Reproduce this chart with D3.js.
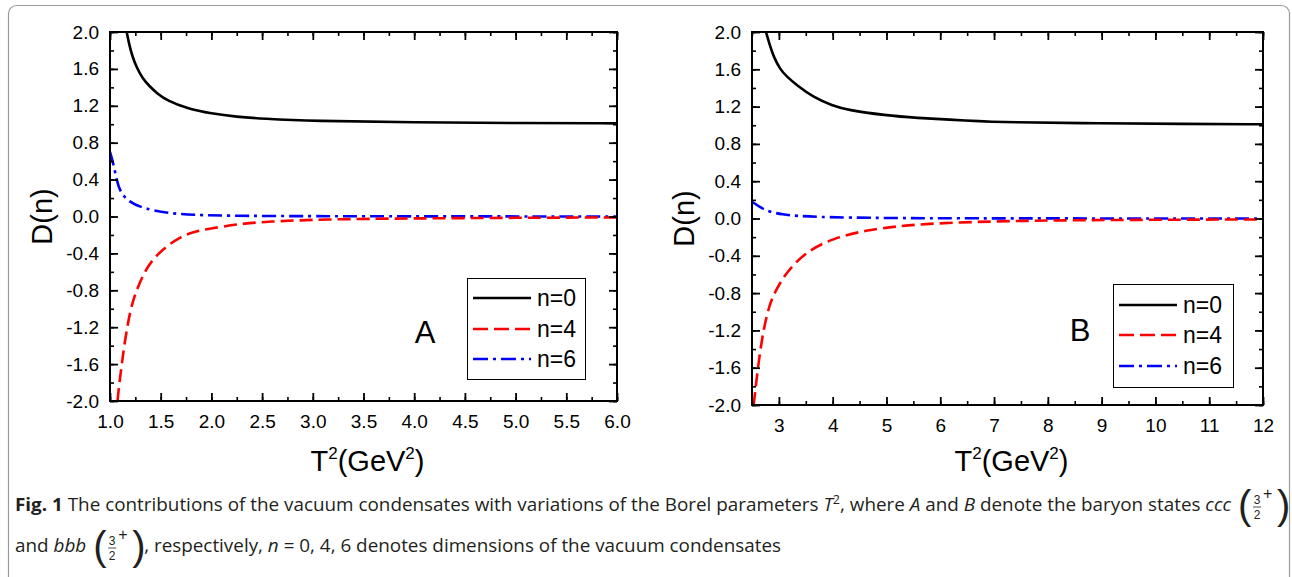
<!DOCTYPE html>
<html>
<head>
<meta charset="utf-8">
<script src="https://d3js.org/d3.v7.min.js"></script>
<style>
  body { margin: 0; background: #fff; }
  svg text { font-family: "Liberation Sans", Arial, sans-serif; }
</style>
</head>
<body>
<script>
var width = 1292, height = 577;

// panel A : ccc  (T^2 in GeV^2, D(n))
var tA0 = [1.165, 1.19, 1.22, 1.26, 1.32, 1.39, 1.47, 1.56, 1.76, 2.0, 2.25, 2.5, 3.0, 4.0, 5.0, 6.0];
var dA0 = [2.0, 1.86, 1.74, 1.62, 1.50, 1.41, 1.33, 1.26, 1.17, 1.115, 1.08, 1.06, 1.035, 1.02, 1.013, 1.01];
var tA4 = [1.075, 1.082, 1.115, 1.148, 1.197, 1.247, 1.33, 1.41, 1.53, 1.67, 1.82, 1.99, 2.28, 2.55, 3.1, 4.0, 5.0, 6.0];
var dA4 = [-2.0, -1.90, -1.61, -1.34, -1.03, -0.84, -0.62, -0.48, -0.345, -0.236, -0.165, -0.13, -0.08, -0.055, -0.03, -0.02, -0.014, -0.01];
var tA6 = [1.0, 1.033, 1.066, 1.099, 1.18, 1.33, 1.56, 1.89, 2.5, 3.5, 6.0];
var dA6 = [0.70, 0.575, 0.395, 0.27, 0.16, 0.088, 0.035, 0.012, 0.005, 0.002, 0.0];

// panel B : bbb
var tB0 = [2.76, 2.84, 2.9, 3.02, 3.15, 3.33, 3.64, 4.0, 4.26, 5.0, 5.5, 6.5, 7.27, 9.0, 10.5, 12.0];
var dB0 = [2.0, 1.84, 1.74, 1.60, 1.52, 1.43, 1.30, 1.21, 1.165, 1.105, 1.08, 1.05, 1.03, 1.02, 1.015, 1.01];
var tB4 = [2.53, 2.556, 2.606, 2.68, 2.80, 2.93, 3.15, 3.52, 4.02, 4.64, 5.69, 7.43, 9.0, 12.0];
var dB4 = [-2.0, -1.876, -1.62, -1.30, -0.96, -0.78, -0.566, -0.35, -0.21, -0.12, -0.05, -0.025, -0.015, -0.01];
var tB6 = [2.5, 2.71, 3.02, 3.64, 5.0, 7.0, 12.0];
var dB6 = [0.18, 0.094, 0.04, 0.015, 0.004, 0.001, 0.0];

var yTicks = [2.0, 1.6, 1.2, 0.8, 0.4, 0.0, -0.4, -0.8, -1.2, -1.6, -2.0];
var xTicksA = [1.0, 1.5, 2.0, 2.5, 3.0, 3.5, 4.0, 4.5, 5.0, 5.5, 6.0];
var xTicksB = [3, 4, 5, 6, 7, 8, 9, 10, 11, 12];
var legendNames = ["n=0", "n=4", "n=6"];

var styles = [
  {color: "#000000", dash: null},
  {color: "#ff0000", dash: "13,6"},
  {color: "#0000ff", dash: "14,5,3,5"}
];

var panels = [
  {name: "A", left: 110, right: 617, top: 32, bottom: 401, xdom: [1, 6], xt: xTicksA, xminor: 0.25, fmt: d3.format(".1f"),
   series: [[tA0, dA0], [tA4, dA4], [tA6, dA6]],
   leg: {x: 467, y: 278, w: 118, h: 101, ys: [298, 329, 359]}, lab: {x: 425, y: 332}},
  {name: "B", left: 752, right: 1263, top: 32, bottom: 405, xdom: [2.5, 12], xt: xTicksB, xminor: 0.5, fmt: d3.format("d"),
   series: [[tB0, dB0], [tB4, dB4], [tB6, dB6]],
   leg: {x: 1113, y: 284, w: 120, h: 103, ys: [305, 335, 366]}, lab: {x: 1080, y: 330}}
];

var svg = d3.select("body").append("svg")
  .attr("width", width)
  .attr("height", height);

svg.append("rect").attr("width", width).attr("height", height).attr("fill", "#fff");

// outer frame
svg.append("rect")
  .attr("x", 8.5).attr("y", 5.5)
  .attr("width", 1281).attr("height", 640)
  .attr("rx", 8)
  .attr("fill", "none")
  .attr("stroke", "#9a9a9a")
  .attr("stroke-width", 1.2);

function range(a, b, step) {
  var out = [];
  for (var v = a; v <= b + 1e-9; v += step) out.push(+v.toFixed(4));
  return out;
}

panels.forEach(function(p, pi) {
  var x = d3.scaleLinear().domain(p.xdom).range([p.left, p.right]);
  var y = d3.scaleLinear().domain([-2, 2]).range([p.bottom, p.top]);
  var g = svg.append("g");

  var clipId = "clip" + pi;
  svg.append("clipPath").attr("id", clipId).append("rect")
    .attr("x", p.left).attr("y", p.top)
    .attr("width", p.right - p.left).attr("height", p.bottom - p.top);

  var line = d3.line()
    .x(function(d) { return x(d[0]); })
    .y(function(d) { return y(d[1]); })
    .curve(d3.curveBasis);

  var curves = g.append("g").attr("clip-path", "url(#" + clipId + ")");
  // blue first, then red, black on top
  [2, 1, 0].forEach(function(si) {
    var s = p.series[si];
    var pts = s[0].map(function(t, i) { return [t, s[1][i]]; });
    curves.append("path")
      .datum(pts)
      .attr("d", line)
      .attr("fill", "none")
      .attr("stroke", styles[si].color)
      .attr("stroke-width", 2.6)
      .attr("stroke-dasharray", styles[si].dash);
  });

  var yMinor = range(-2, 2, 0.2);
  var xMinor = range(p.xdom[0], p.xdom[1], p.xminor);

  // minor ticks (all four sides, inward)
  var minors = [
    [d3.axisBottom(x).tickValues(xMinor), "translate(0," + p.bottom + ")"],
    [d3.axisTop(x).tickValues(xMinor), "translate(0," + p.top + ")"],
    [d3.axisLeft(y).tickValues(yMinor), "translate(" + p.left + ",0)"],
    [d3.axisRight(y).tickValues(yMinor), "translate(" + p.right + ",0)"]
  ];
  minors.forEach(function(m) {
    var a = g.append("g").attr("transform", m[1])
      .call(m[0].tickSize(-4).tickFormat(""));
    a.select(".domain").remove();
    a.selectAll("line").attr("stroke", "#000").attr("stroke-width", 1.6);
  });

  // major ticks
  var bx = g.append("g").attr("transform", "translate(0," + p.bottom + ")")
    .call(d3.axisBottom(x).tickValues(p.xt).tickSize(-8).tickPadding(13.5).tickFormat(p.fmt));
  var tx = g.append("g").attr("transform", "translate(0," + p.top + ")")
    .call(d3.axisTop(x).tickValues(p.xt).tickSize(-8).tickFormat(""));
  var ly = g.append("g").attr("transform", "translate(" + p.left + ",0)")
    .call(d3.axisLeft(y).tickValues(yTicks).tickSize(-8).tickPadding(11).tickFormat(d3.format(".1f")));
  var ry = g.append("g").attr("transform", "translate(" + p.right + ",0)")
    .call(d3.axisRight(y).tickValues(yTicks).tickSize(-8).tickFormat(""));
  [bx, tx, ly, ry].forEach(function(a) {
    a.select(".domain").remove();
    a.selectAll("line").attr("stroke", "#000").attr("stroke-width", 1.8);
    a.selectAll("text")
      .attr("fill", "#000")
      .style("font-family", '"Liberation Sans", Arial, sans-serif')
      .style("font-size", "19px");
  });
  ly.selectAll("text").text(function(d) { return d3.format(".1f")(d).replace("\u2212", "-"); });

  // plot frame
  g.append("rect")
    .attr("x", p.left).attr("y", p.top)
    .attr("width", p.right - p.left).attr("height", p.bottom - p.top)
    .attr("fill", "none")
    .attr("stroke", "#000")
    .attr("stroke-width", 2);

  // axis titles
  var cx = (p.left + p.right) / 2 + 4;
  var xt = g.append("text")
    .attr("x", cx).attr("y", 471)
    .attr("text-anchor", "middle")
    .style("font-size", "29px");
  xt.append("tspan").text("T");
  xt.append("tspan").attr("dy", -12).style("font-size", "17px").text("2");
  xt.append("tspan").attr("dy", 12).text("(GeV");
  xt.append("tspan").attr("dy", -12).style("font-size", "17px").text("2");
  xt.append("tspan").attr("dy", 12).text(")");

  g.append("text")
    .attr("transform", "translate(" + (p.left - 68) + "," + ((p.top + p.bottom) / 2) + ") rotate(-90)")
    .attr("text-anchor", "middle")
    .attr("dy", "0.35em")
    .style("font-size", "29px")
    .text("D(n)");

  // panel letter
  g.append("text")
    .attr("x", p.lab.x).attr("y", p.lab.y)
    .attr("text-anchor", "middle")
    .attr("dy", "0.36em")
    .style("font-size", "31px")
    .text(p.name);

  // legend
  var L = p.leg;
  g.append("rect")
    .attr("x", L.x + 0.5).attr("y", L.y + 0.5)
    .attr("width", L.w).attr("height", L.h)
    .attr("fill", "#fff")
    .attr("stroke", "#000")
    .attr("stroke-width", 1);
  legendNames.forEach(function(nm, i) {
    g.append("line")
      .attr("x1", L.x + 6).attr("x2", L.x + 64)
      .attr("y1", L.ys[i]).attr("y2", L.ys[i])
      .attr("stroke", styles[i].color)
      .attr("stroke-width", 2.6)
      .attr("stroke-dasharray", i === 1 ? "15,6" : (i === 2 ? "15,5,3,5" : null));
    g.append("text")
      .attr("x", L.x + 70).attr("y", L.ys[i])
      .attr("dy", "0.36em")
      .style("font-size", "23px")
      .text(nm);
  });
});

// caption
var capFont = '"Open Sans", "Noto Sans", sans-serif';
var cap = svg.append("g").attr("fill", "#231f20");

function seg(x, y) {
  return cap.append("text").attr("x", x).attr("y", y)
    .style("font-family", capFont).style("font-size", "18px");
}

// (3/2 +) with tall parentheses
function frac(x0, yb) {
  var f = cap.append("g").style("font-family", capFont);
  f.append("text").attr("x", x0).attr("y", yb + 8).style("font-size", "40px").style("font-weight", 300).text("(");
  f.append("text").attr("x", x0 + 19).attr("y", yb - 7).attr("text-anchor", "middle").style("font-size", "12px").text("3");
  f.append("line").attr("x1", x0 + 15).attr("x2", x0 + 23).attr("y1", yb - 4).attr("y2", yb - 4)
    .attr("stroke", "#231f20").attr("stroke-width", 0.8);
  f.append("text").attr("x", x0 + 19).attr("y", yb + 8).attr("text-anchor", "middle").style("font-size", "12px").text("2");
  f.append("text").attr("x", x0 + 25).attr("y", yb - 12).style("font-size", "16px").text("+");
  f.append("text").attr("x", x0 + 39).attr("y", yb + 8).style("font-size", "40px").style("font-weight", 300).text(")");
}

var y1 = 511, y2 = 552;
var l1 = seg(15, y1);
l1.append("tspan").style("font-weight", "bold").text("Fig. 1");
l1.append("tspan").text(" The contributions of the vacuum condensates with variations of the Borel parameters ");
l1.append("tspan").style("font-style", "italic").text("T");
l1.append("tspan").attr("dy", -7).style("font-size", "12px").text("2");
l1.append("tspan").attr("dy", 7).text(", where ");
l1.append("tspan").style("font-style", "italic").text("A");
l1.append("tspan").text(" and ");
l1.append("tspan").style("font-style", "italic").text("B");
l1.append("tspan").text(" denote the baryon states ");
l1.append("tspan").style("font-style", "italic").text("ccc");
var nat = l1.node().getComputedTextLength();
var k = 1216 / nat;
l1.attr("textLength", 1216).attr("lengthAdjust", "spacingAndGlyphs");
frac(1238, y1);

var l2a = seg(15, y2);
l2a.append("tspan").text("and ");
l2a.append("tspan").style("font-style", "italic").text("bbb");
var w2a = l2a.node().getComputedTextLength() * k;
l2a.attr("textLength", w2a).attr("lengthAdjust", "spacingAndGlyphs");
var fx = 15 + w2a + 7;
frac(fx, y2);
var l2b = seg(fx + 51, y2);
l2b.append("tspan").text(", respectively, ");
l2b.append("tspan").style("font-style", "italic").text("n");
l2b.append("tspan").text(" = 0, 4, 6 denotes dimensions of the vacuum condensates");
var w2b = l2b.node().getComputedTextLength() * k;
l2b.attr("textLength", w2b).attr("lengthAdjust", "spacingAndGlyphs");
</script>
</body>
</html>
